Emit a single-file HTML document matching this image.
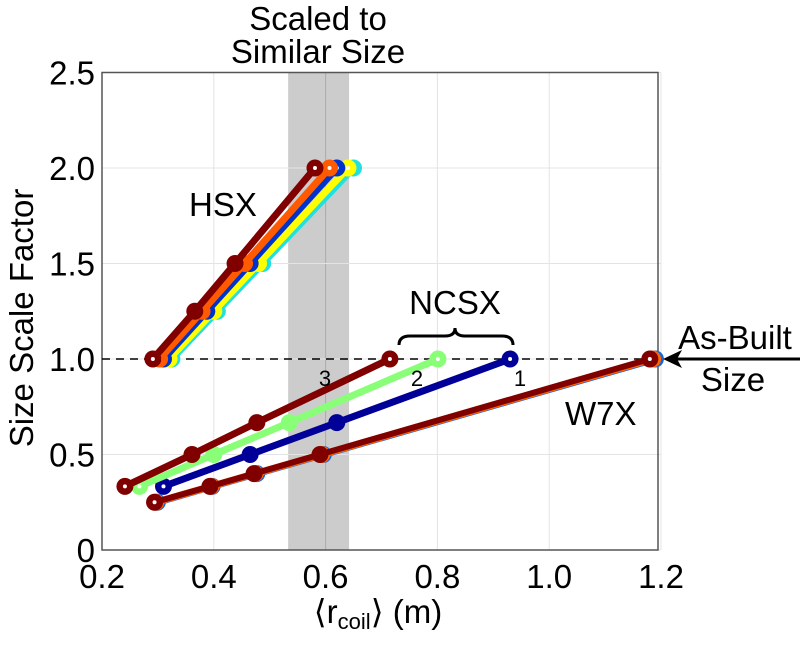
<!DOCTYPE html>
<html><head><meta charset="utf-8"><style>
body{margin:0;background:#fff}
svg text{font-family:"Liberation Sans",Arial,sans-serif;fill:#000}
</style></head><body>
<svg id="chart" width="800" height="662" viewBox="0 0 800 662">
<g id="grid"></g>
<g id="marks"></g>
<g id="labels"></g>
</svg>
<script>
const xTicks=[0.2,0.4,0.6,0.8,1.0,1.2];
const xTickLabels=["0.2","0.4","0.6","0.8","1.0","1.2"];
const yTicks=[0,0.5,1.0,1.5,2.0,2.5];
const yTickLabels=["0","0.5","1.0","1.5","2.0","2.5"];
const shadeRange=[0.533,0.642];
const hsxScales=[1.0,1.25,1.5,2.0];
const hsxRadiusCyan=[0.325,0.4063,0.4875,0.65];
const hsxRadiusYellow=[0.32,0.40,0.48,0.64];
const hsxRadiusBlue=[0.31,0.3875,0.465,0.62];
const hsxRadiusOrange=[0.303,0.379,0.455,0.607];
const hsxRadiusDarkRed=[0.291,0.366,0.438,0.581];
const ncsxScales=[0.333,0.5,0.667,1.0];
const ncsx1Radius=[0.31,0.465,0.62,0.93];
const ncsx2Radius=[0.267,0.40,0.535,0.801];
const ncsx3Radius=[0.241,0.361,0.477,0.715];
const w7xScales=[0.25,0.333,0.4,0.5,1.0];
const w7xRadiusBlue=[0.299,0.397,0.477,0.596,1.19];
const w7xRadiusOrange=[0.296,0.395,0.474,0.593,1.185];
const w7xRadiusDarkRed=[0.294,0.393,0.472,0.59,1.18];

const NS="http://www.w3.org/2000/svg";
const X0=102,XS=559,Y0=550,YS=191;
function xs(v){return X0+(v-0.2)*XS;}
function ys(v){return Y0-v*YS;}
function mk(tag,attrs,parent){const e=document.createElementNS(NS,tag);for(const k in attrs)e.setAttribute(k,attrs[k]);parent.appendChild(e);return e;}
const grid=document.getElementById('grid'),marks=document.getElementById('marks'),labels=document.getElementById('labels');

let band=mk('rect',{x:xs(shadeRange[0]),y:ys(2.5),width:xs(shadeRange[1])-xs(shadeRange[0]),height:ys(0)-ys(2.5),fill:'#cccccc'},grid);



xTicks.forEach((t,i)=>{
  const g=mk('line',{x1:xs(t),x2:xs(t),y1:ys(0),y2:ys(2.5),stroke:(t>=shadeRange[0]&&t<=shadeRange[1])?'#aaaaaa':'#e4e4e4','stroke-width':1},grid);
  
  
  const tl=mk('text',{x:xs(t),y:588,'font-size':33,'text-anchor':'middle'},labels);
  tl.textContent=xTickLabels[i];
  
  
});
yTicks.forEach((t,i)=>{
  const g=mk('line',{x1:xs(0.2),x2:xs(1.2),y1:ys(t),y2:ys(t),stroke:'#e4e4e4','stroke-width':1},grid);
  
  
  const tl=mk('text',{x:95,y:ys(t)+12,'font-size':33,'text-anchor':'end'},labels);
  tl.textContent=yTickLabels[i];
  
  
});
let ax=mk('rect',{x:xs(0.2),y:ys(2.5),width:xs(1.2)-xs(0.2)-3,height:ys(0)-ys(2.5),fill:'none',stroke:'#555','stroke-width':1.5},grid);


let dl=mk('line',{x1:xs(0.2),x2:xs(1.2)-3,y1:ys(1),y2:ys(1),stroke:'#000','stroke-width':1.5,'stroke-dasharray':'8,6'},grid);



function series(rs,ss,color,w,name){
  const g=mk('g',{},marks);
  
  
  mk('polyline',{points:rs.map((r,i)=>xs(r)+','+ys(ss[i])).join(' '),fill:'none',stroke:color,'stroke-width':w},g);
  rs.forEach((r,i)=>{
    const c=mk('circle',{cx:xs(r),cy:ys(ss[i]),r:8.5,fill:color},g);
    
    
    if(i===0||i===rs.length-1) mk('circle',{cx:xs(r),cy:ys(ss[i]),r:2,fill:'#fff'},g);
  });
}
series(hsxRadiusCyan,hsxScales,'#22e0e0',7,'hsx-cyan');
series(hsxRadiusYellow,hsxScales,'#ffff00',7,'hsx-yellow');
series(hsxRadiusBlue,hsxScales,'#0033cc',7,'hsx-blue');
series(hsxRadiusOrange,hsxScales,'#ff5a00',7,'hsx-orange');
series(hsxRadiusDarkRed,hsxScales,'#800000',7,'hsx-darkred');
series(w7xRadiusBlue,w7xScales,'#1166dd',7,'w7x-blue');
series(w7xRadiusOrange,w7xScales,'#ff6600',7,'w7x-orange');
series(w7xRadiusDarkRed,w7xScales,'#800000',6,'w7x-darkred');
series(ncsx1Radius,ncsxScales,'#000099',7,'ncsx-config-1');
series(ncsx2Radius,ncsxScales,'#88ff77',7,'ncsx-config-2');
series(ncsx3Radius,ncsxScales,'#800000',7,'ncsx-config-3');
</script>
<svg style="position:absolute;left:0;top:0" width="800" height="662">
<g style="font-family:'Liberation Sans',Arial,sans-serif">
<text x="318" y="30" font-size="33" text-anchor="middle">Scaled to</text>
<text x="318" y="63" font-size="33" text-anchor="middle">Similar Size</text>
<text transform="translate(33,318) rotate(-90)" font-size="33" text-anchor="middle">Size Scale Factor</text>
<text x="378" y="623" font-size="33" text-anchor="middle">⟨r<tspan font-size="22" dy="6">coil</tspan><tspan dy="-6">⟩ (m)</tspan></text>
<text x="189" y="216" font-size="33">HSX</text>
<text x="455" y="314" font-size="33" text-anchor="middle">NCSX</text>
<path d="M399,345 Q399,336 410,336 L445,336 Q455,336 455,328 Q455,336 465,336 L502,336 Q513,336 513,345" fill="none" stroke="#000" stroke-width="3"/>
<text x="325" y="386" font-size="22" text-anchor="middle">3</text>
<text x="417" y="386" font-size="22" text-anchor="middle">2</text>
<text x="520" y="386" font-size="22" text-anchor="middle">1</text>
<text x="565" y="425" font-size="33">W7X</text>
<text x="735" y="349" font-size="33" text-anchor="middle">As-Built</text>
<text x="733" y="391" font-size="33" text-anchor="middle">Size</text>
<line x1="800" y1="359" x2="675" y2="359" stroke="#000" stroke-width="3"/>
<path d="M663,359 L682,350 L677,359 L682,368 Z" fill="#000"/>
</g>
</svg>
</body></html>
